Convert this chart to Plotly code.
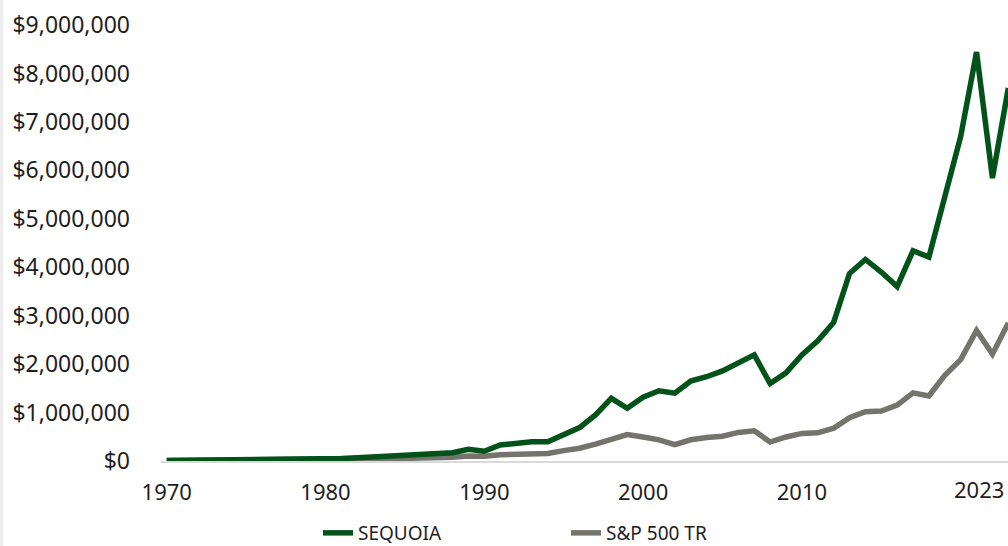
import plotly.graph_objects as go

years = list(range(1970, 2024))

sequoia = [
    12000, 13500, 15000, 12500, 11500, 15500, 23000, 27000, 33000, 40000,
    45000, 50000, 65000, 80000, 90000, 118000, 135000, 145000, 170000, 240000,
    200000, 330000, 365000, 395000, 395000, 550000, 690000, 950000, 1294000, 1088000,
    1315000, 1450000, 1400000, 1650000, 1740000, 1860000, 2020000, 2190000, 1600000, 1820000,
    2190000, 2480000, 2860000, 3870000, 4160000, 3900000, 3600000, 4340000, 4210000, 5460000,
    6700000, 8440000, 5840000, 7700000,
]

sp500tr = [
    12000, 13700, 16300, 13900, 10200, 14000, 17400, 16100, 17200, 20400,
    27000, 25700, 31200, 38200, 40600, 53400, 63400, 66700, 77800, 102000,
    99000, 129000, 139000, 153000, 155000, 214000, 263000, 350000, 450000, 545000,
    496000, 437000, 340000, 438000, 486000, 510000, 590000, 622000, 392000, 496000,
    570000, 582000, 676000, 895000, 1017000, 1031000, 1154000, 1406000, 1344000, 1768000,
    2093000, 2694000, 2206000, 2850000,
]

x_tick_values = [1970, 1980, 1990, 2000, 2010]
last_tick_label = "2023"
y_tick_values = [0, 1e6, 2e6, 3e6, 4e6, 5e6, 6e6, 7e6, 8e6, 9e6]

GREEN = "#02521a"
GRAY = "#74746c"
TEXT = "#1e1e1e"
FONT = "Noto Sans"

fig = go.Figure()
fig.add_trace(go.Scatter(
    x=years, y=sp500tr, mode="lines", name="S&P 500 TR",
    line=dict(color=GRAY, width=5.5), legendrank=2,
))
fig.add_trace(go.Scatter(
    x=years, y=sequoia, mode="lines", name="SEQUOIA",
    line=dict(color=GREEN, width=5.5), legendrank=1,
))

W, H = 1008, 546
ML, MR, MT, MB = 161, 0, 25, 85

fig.update_layout(
    width=W, height=H,
    margin=dict(l=ML, r=MR, t=MT, b=MB),
    paper_bgcolor="white", plot_bgcolor="white",
    font=dict(family=FONT, color=TEXT, size=22),
    showlegend=True,
    legend=dict(
        orientation="h", xref="container", yref="container",
        x=318 / W, xanchor="left", y=1 - 533 / H, yanchor="middle",
        font=dict(size=19, color=TEXT), entrywidth=203,
        bgcolor="rgba(0,0,0,0)",
    ),
    xaxis=dict(
        range=[1969.64, 2022.98], showgrid=False, zeroline=False,
        showline=True, linecolor="#d9d9d9", linewidth=2,
        tickvals=x_tick_values, ticktext=[str(v) for v in x_tick_values],
        ticks="", ticklabelstandoff=11, tickfont=dict(size=22),
    ),
    yaxis=dict(
        range=[0, 9e6], showgrid=False, zeroline=False, showline=False,
        tickvals=y_tick_values, tickformat="$,.0f",
        ticks="", ticklabelstandoff=30, tickfont=dict(size=23),
    ),
    annotations=[dict(
        text=last_tick_label, xref="paper", yref="paper",
        x=1, xanchor="right", xshift=-2, y=0, yanchor="top", yshift=-11,
        showarrow=False, font=dict(size=22, color=TEXT),
    )],
    shapes=[dict(
        type="line", xref="paper", yref="paper",
        x0=-ML / (W - ML - MR) + 0.002, x1=-ML / (W - ML - MR) + 0.002,
        y0=-MB / (H - MT - MB), y1=1 + MT / (H - MT - MB),
        line=dict(color="#ececec", width=3),
    )],
)

fig.write_html(
    "out.html",
    config={"displayModeBar": False},
    post_script="document.body.style.margin='0';document.body.style.overflow='hidden';",
)
